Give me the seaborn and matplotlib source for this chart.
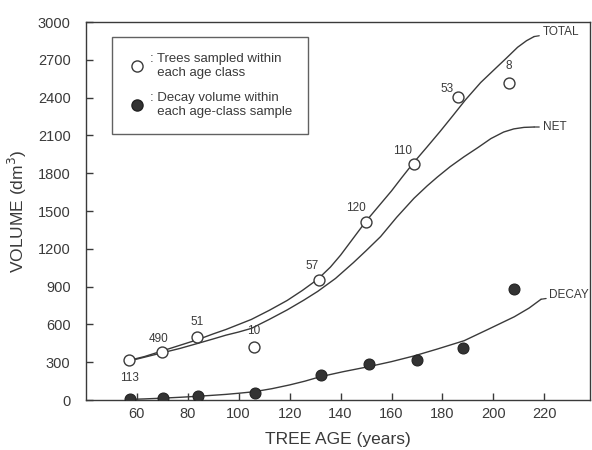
import matplotlib
matplotlib.use("Agg")
import matplotlib.pyplot as plt
import seaborn as sns
from matplotlib.lines import Line2D

# sampled trees (open circles) and decay volume (filled circles)
sample_age = [57, 70, 83.5, 106, 131.7, 150, 168.8, 186.2, 206.2]
sample_volume = [315, 385, 500, 425, 955, 1415, 1875, 2405, 2515]
sample_n = ["113", "490", "51", "10", "57", "120", "110", "53", "8"]
decay_age = [57.2, 70.4, 84, 106.6, 132.4, 151.2, 170.1, 188.1, 207.9]
decay_volume = [12, 20, 30, 55, 200, 285, 320, 410, 880]

# fitted curves
total_age = [57, 63, 70, 77, 84, 90, 95, 100, 105, 112, 119, 125, 131, 136, 140,
             145, 150, 155, 160, 164, 168.5, 174, 179, 184, 189, 195, 201.6, 205,
             209.5, 213, 216]
total_vol = [315, 345, 390, 435, 480, 525, 560, 600, 640, 712, 790, 870, 958, 1055,
             1150, 1285, 1420, 1540, 1660, 1765, 1880, 2010, 2130, 2255, 2382, 2520,
             2647, 2712, 2800, 2852, 2885]
net_age = [57, 63, 70, 77, 84, 90, 95, 100, 105, 112, 119, 125.5, 131, 138, 145,
           150, 155.7, 162, 168.8, 174, 178, 183, 188.4, 194, 199, 204, 208, 212, 216]
net_vol = [310, 340, 375, 410, 450, 485, 515, 540, 569, 640, 715, 792, 862, 965, 1090,
           1185, 1297, 1450, 1601, 1700, 1770, 1852, 1930, 2005, 2075, 2127, 2152,
           2164, 2167]
decay_curve_age = [57, 63, 70, 77, 84, 90, 95, 100, 106, 113, 120, 126, 132, 141,
                   151, 160, 168.8, 178, 188.5, 198, 208.2, 214, 218.7]
decay_curve_vol = [5, 9, 15, 22, 30, 38, 45, 54, 66, 90, 120, 150, 185, 225, 265,
                   305, 350, 405, 471, 562, 661, 730, 800]

ink = "#3a3a3a"
sns.set_style("ticks")
plt.rcParams["font.family"] = ["Liberation Sans", "DejaVu Sans"]

fig = plt.figure(figsize=(5.92, 4.5), dpi=100)
ax = fig.add_axes([0.145, 0.111, 0.852, 0.840])

curves = {
    "TOTAL": (total_age, total_vol),
    "NET": (net_age, net_vol),
    "DECAY": (decay_curve_age, decay_curve_vol),
}
for name, (xs, ys) in curves.items():
    sns.lineplot(x=xs, y=ys, ax=ax, color=ink, linewidth=1.0, sort=False)

sns.scatterplot(x=sample_age, y=sample_volume, ax=ax, s=62, marker="o",
                facecolor="white", edgecolor=ink, linewidth=1.0, zorder=3)
sns.scatterplot(x=decay_age, y=decay_volume, ax=ax, s=62, marker="o",
                color="#333333", edgecolor="#222222", linewidth=0.8, zorder=3)

# sample counts next to the open circles
label_offsets = [(0, -13), (-3, 9), (0, 11), (0, 11), (-5, 10), (-7, 10), (-8, 9), (-8, 6), (0, 12)]
for x, y, n, (dx, dy) in zip(sample_age, sample_volume, sample_n, label_offsets):
    ax.annotate(n, (x, y), xytext=(dx, dy), textcoords="offset points",
                ha="center", va="center", fontsize=8.5, color=ink)

# curve names with short leader lines
for name, (xs, ys) in curves.items():
    ax.annotate(name, (xs[-1], ys[-1]), xytext=(6, 3 if name != "NET" else 0),
                textcoords="offset points", ha="left", va="center",
                fontsize=8.5, color=ink,
                arrowprops=dict(arrowstyle="-", color=ink, lw=0.9,
                                shrinkA=0, shrinkB=0))

ax.set_xlim(40, 238)
ax.set_ylim(0, 3000)
ax.set_xticks(range(60, 221, 20))
ax.set_yticks(range(0, 3001, 300))
ax.tick_params(axis="both", direction="in", length=5, width=1, colors=ink,
               labelsize=10.5, labelcolor=ink)
ax.tick_params(axis="y", pad=11)
ax.tick_params(axis="x", pad=5)
for side in ["top", "right", "left", "bottom"]:
    ax.spines[side].set_visible(True)
    ax.spines[side].set_color(ink)
    ax.spines[side].set_linewidth(1.0)

ax.set_xlabel("TREE AGE (years)", fontsize=12.5, color=ink, labelpad=8)
ax.set_ylabel("VOLUME (dm$^3$)", fontsize=12.5, color=ink, labelpad=6)

handles = [
    Line2D([], [], marker="o", linestyle="none", markersize=8,
           markerfacecolor="white", markeredgecolor=ink, markeredgewidth=1.0),
    Line2D([], [], marker="o", linestyle="none", markersize=8,
           markerfacecolor="#333333", markeredgecolor="#222222"),
]
labels = [": Trees sampled within\n  each age class",
          ": Decay volume within\n  each age-class sample"]
leg = ax.legend(handles, labels, loc="upper left", bbox_to_anchor=(0.052, 0.96),
                borderaxespad=0, frameon=True, fancybox=False, fontsize=9.5,
                labelspacing=1.0, handletextpad=0.25, borderpad=1.2,
                handlelength=1.4, labelcolor=ink)
leg.get_frame().set_edgecolor(ink)
leg.get_frame().set_linewidth(1.0)

fig.savefig("out.png", dpi=100, facecolor="white")
